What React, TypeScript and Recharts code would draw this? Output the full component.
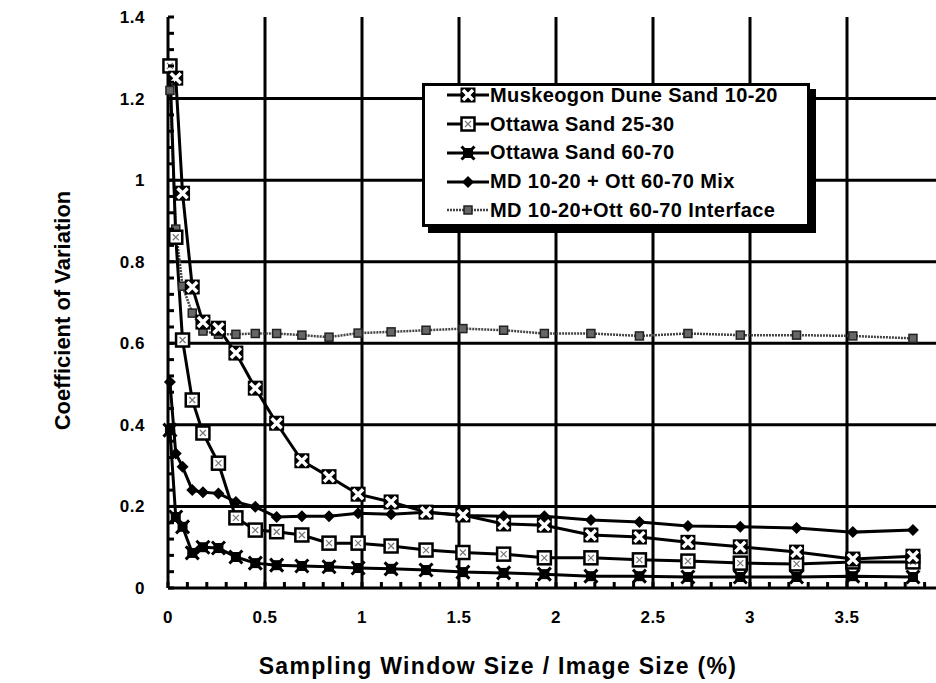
import { Label, Legend, Line, LineChart, ReferenceLine, XAxis, YAxis } from "recharts";

const FONT = '"Liberation Sans", Arial, Helvetica, sans-serif';

// sampling window size / image size (%), shared by all series
const windowSize = [
  0.01, 0.04, 0.075, 0.125, 0.18, 0.26, 0.35, 0.45, 0.56, 0.69, 0.83, 0.98,
  1.15, 1.33, 1.52, 1.73, 1.94, 2.18, 2.43, 2.68, 2.95, 3.24, 3.53, 3.84,
];

// coefficient of variation per sand type
const cvMuskegon = [
  null, 1.25, 0.968, 0.738, 0.652, 0.637, 0.576, 0.49, 0.404, 0.312, 0.273, 0.23,
  0.211, 0.186, 0.179, 0.157, 0.154, 0.13, 0.125, 0.112, 0.101, 0.088, 0.071, 0.078,
];
const cvOttawa2530 = [
  1.28, 0.86, 0.608, 0.461, 0.38, 0.306, 0.172, 0.142, 0.138, 0.13, 0.11, 0.11,
  0.103, 0.093, 0.087, 0.083, 0.074, 0.074, 0.069, 0.066, 0.061, 0.059, 0.064, 0.064,
];
const cvOttawa6070 = [
  0.387, 0.174, 0.15, 0.086, 0.1, 0.098, 0.076, 0.061, 0.056, 0.054, 0.052, 0.049,
  0.047, 0.044, 0.039, 0.037, 0.034, 0.029, 0.029, 0.027, 0.027, 0.027, 0.029, 0.027,
];
const cvMix = [
  0.505, 0.33, 0.297, 0.24, 0.235, 0.232, 0.211, 0.199, 0.174, 0.176, 0.176, 0.183,
  0.181, 0.186, 0.178, 0.176, 0.176, 0.167, 0.162, 0.152, 0.15, 0.147, 0.137, 0.142,
];
const cvInterface = [
  1.22, 0.88, 0.74, 0.674, 0.63, 0.622, 0.622, 0.624, 0.624, 0.62, 0.615, 0.625,
  0.628, 0.632, 0.636, 0.632, 0.624, 0.624, 0.618, 0.624, 0.62, 0.62, 0.618, 0.612,
];

const xTickLabels = ["0", "0.5", "1", "1.5", "2", "2.5", "3", "3.5", "4"];
const yTickLabels = ["0", "0.2", "0.4", "0.6", "0.8", "1", "1.2", "1.4"];
const xGrid = [0.5, 1, 1.5, 2, 2.5, 3, 3.5];
const yGrid = [0.2, 0.4, 0.6, 0.8, 1, 1.2];

// minor ticks: 0.1 on x, 0.04 on y
const xMinorTicks = Array.from({ length: 41 }, (_, i) => i / 10);
const yMinorTicks = Array.from({ length: 36 }, (_, i) => i / 25);

const data = windowSize.map((x, i) => ({
  x,
  muskegon: cvMuskegon[i],
  ott2530: cvOttawa2530[i],
  ott6070: cvOttawa6070[i],
  mix: cvMix[i],
  iface: cvInterface[i],
}));

type Kind = "muskegon" | "ott2530" | "ott6070" | "mix" | "iface";

function Marker({ kind, cx, cy }: { kind: Kind; cx: number; cy: number }) {
  const x = (a: number) =>
    `M${cx - a} ${cy - a}L${cx + a} ${cy + a}M${cx + a} ${cy - a}L${cx - a} ${cy + a}`;
  if (kind === "muskegon")
    return (
      <g>
        <rect x={cx - 7.5} y={cy - 7.5} width={15} height={15} fill="#000" />
        <path d={x(5)} stroke="#fff" strokeWidth={3.5} />
      </g>
    );
  if (kind === "ott2530")
    return (
      <g>
        <rect x={cx - 6.5} y={cy - 6.5} width={13} height={13} fill="#fff" stroke="#000" strokeWidth={2.5} />
        <path d={x(3)} stroke="#777" strokeWidth={1.2} />
      </g>
    );
  if (kind === "ott6070")
    return (
      <g>
        <rect x={cx - 5} y={cy - 5} width={10} height={10} fill="#000" />
        <path d={x(6.5)} stroke="#000" strokeWidth={3} />
      </g>
    );
  if (kind === "mix")
    return (
      <path
        d={`M${cx} ${cy - 6}L${cx + 6} ${cy}L${cx} ${cy + 6}L${cx - 6} ${cy}Z`}
        fill="#000"
      />
    );
  return (
    <rect x={cx - 4} y={cy - 4} width={8} height={8} fill="#666" stroke="#222" strokeWidth={1.5} />
  );
}

const series: { key: Kind; name: string; width: number; stroke: string; dash?: string }[] = [
  { key: "muskegon", name: "Muskeogon Dune Sand 10-20", width: 3, stroke: "#000" },
  { key: "ott2530", name: "Ottawa Sand 25-30", width: 3, stroke: "#000" },
  { key: "ott6070", name: "Ottawa Sand 60-70", width: 3, stroke: "#000" },
  { key: "mix", name: "MD 10-20 + Ott 60-70 Mix", width: 3, stroke: "#000" },
  { key: "iface", name: "MD 10-20+Ott 60-70 Interface", width: 2.5, stroke: "#444", dash: "2 1" },
];

const drawOrder: Kind[] = ["iface", "mix", "ott6070", "ott2530", "muskegon"];

function BottomTick(p: any) {
  const k = Math.round(p.payload.value * 10);
  return (
    <g>
      <line x1={p.x} y1={p.y} x2={p.x} y2={p.y - 6} stroke="#000" strokeWidth={3} />
      {k % 5 === 0 && (
        <text x={p.x} y={p.y + 35} textAnchor="middle" fontFamily={FONT} fontWeight="bold" fontSize={17} letterSpacing={0.5} fill="#000">
          {xTickLabels[k / 5]}
        </text>
      )}
    </g>
  );
}

function TopTick(p: any) {
  return <line x1={p.x} y1={p.y} x2={p.x} y2={p.y + 6} stroke="#000" strokeWidth={3} />;
}

function LeftTick(p: any) {
  const k = Math.round(p.payload.value * 25);
  return (
    <g>
      <line x1={p.x} y1={p.y} x2={p.x + 6} y2={p.y} stroke="#000" strokeWidth={3} />
      {k % 5 === 0 && (
        <text x={p.x - 23} y={p.y + 6} textAnchor="end" fontFamily={FONT} fontWeight="bold" fontSize={17} letterSpacing={0.5} fill="#000">
          {yTickLabels[k / 5]}
        </text>
      )}
    </g>
  );
}

function LegendBox() {
  return (
    <div
      style={{
        boxSizing: "border-box",
        width: 388,
        height: 144,
        border: "3px solid #000",
        boxShadow: "6px 6px 0 #000",
        background: "#fff",
        fontFamily: FONT,
        fontWeight: "bold",
        fontSize: 20,
        letterSpacing: 0.4,
        color: "#000",
      }}
    >
      <div style={{ marginTop: -5 }}>
        {series.map((s) => (
          <div key={s.key} style={{ display: "flex", alignItems: "center", height: 28.75 }}>
            <svg width={42} height={20} style={{ marginLeft: 22, flex: "none" }}>
              <line x1={0} y1={10} x2={42} y2={10} stroke={s.stroke} strokeWidth={s.width} strokeDasharray={s.dash} />
              <Marker kind={s.key} cx={21} cy={10} />
            </svg>
            <span style={{ marginLeft: 1, whiteSpace: "nowrap" }}>{s.name}</span>
          </div>
        ))}
      </div>
    </div>
  );
}

export default function App() {
  return (
    <div style={{ position: "absolute", left: 0, top: 0, width: 936, height: 683, overflow: "hidden", background: "#fff" }}>
      <LineChart width={980} height={683} data={data} margin={{ top: 17, right: 36, bottom: 35, left: 0 }}>
        <XAxis
          dataKey="x"
          type="number"
          domain={[0, 4]}
          ticks={xMinorTicks}
          interval={0}
          tickSize={0}
          tickMargin={0}
          tick={BottomTick}
          height={60}
          axisLine={{ stroke: "#000", strokeWidth: 3 }}
        >
          <Label
            content={() => (
              <text
                x={498}
                y={666}
                textAnchor="middle"
                dominantBaseline="central"
                fontFamily={FONT}
                fontWeight="bold"
                fontSize={23}
                letterSpacing={1.3}
                fill="#000"
              >
                Sampling Window Size / Image Size (%)
              </text>
            )}
          />
        </XAxis>
        <XAxis
          xAxisId="top"
          orientation="top"
          type="number"
          domain={[0, 4]}
          ticks={xMinorTicks}
          interval={0}
          tickSize={0}
          tickMargin={0}
          tick={TopTick}
          height={0}
          axisLine={{ stroke: "#000", strokeWidth: 3 }}
        />
        <YAxis
          type="number"
          domain={[0, 1.4]}
          ticks={yMinorTicks}
          interval={0}
          tickSize={0}
          tickMargin={0}
          tick={LeftTick}
          width={168}
          axisLine={{ stroke: "#000", strokeWidth: 3 }}
        >
          <Label
            content={(p: any) => {
              const vb = p.viewBox;
              const cy = vb.y + vb.height / 2 + 8;
              return (
                <text
                  x={62}
                  y={cy}
                  transform={`rotate(-90 62 ${cy})`}
                  textAnchor="middle"
                  dominantBaseline="central"
                  fontFamily={FONT}
                  fontWeight="bold"
                  fontSize={22}
                  fill="#000"
                >
                  Coefficient of Variation
                </text>
              );
            }}
          />
        </YAxis>
        {xGrid.map((v) => (
          <ReferenceLine key={`gx${v}`} x={v} stroke="#000" strokeWidth={3} />
        ))}
        {yGrid.map((v) => (
          <ReferenceLine key={`gy${v}`} y={v} stroke="#000" strokeWidth={3} />
        ))}
        <Legend
          layout="horizontal"
          verticalAlign="middle"
          align="center"
          content={() => <LegendBox />}
          wrapperStyle={{ left: 422, top: 83, width: "auto", height: "auto" }}
        />
        {drawOrder.map((k) => {
          const s = series.find((e) => e.key === k)!;
          return (
            <Line
              key={k}
              dataKey={k}
              name={s.name}
              type="linear"
              stroke={s.stroke}
              strokeWidth={s.width}
              strokeDasharray={s.dash}
              isAnimationActive={false}
              dot={(p: any) =>
                p.cy == null ? <g key={p.index} /> : <Marker key={p.index} kind={k} cx={p.cx} cy={p.cy} />
              }
              activeDot={false}
            />
          );
        })}
      </LineChart>
    </div>
  );
}
